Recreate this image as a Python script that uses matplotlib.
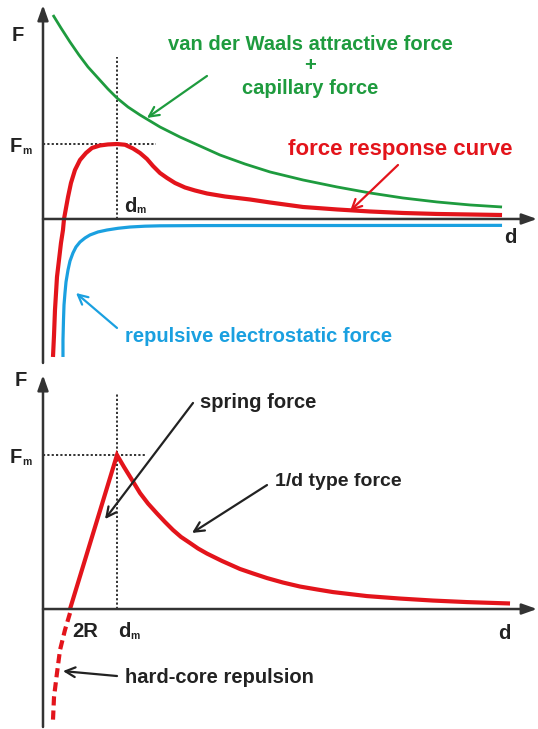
import matplotlib
matplotlib.use("Agg")
import matplotlib.pyplot as plt

#===============================================================================
# units: d in multiples of d_m, F in multiples of F_m

# --- top panel -----------------------------------------------------------------
vdw_d = [0.135, 0.243, 0.365, 0.486, 0.608, 0.743, 0.878, 1.0, 1.149, 1.311,
         1.446, 1.581, 1.851, 2.122, 2.392, 2.730, 3.068, 3.514, 3.973, 4.419,
         4.865, 5.324, 5.770, 6.203]
vdw_F = [2.72, 2.547, 2.36, 2.187, 2.027, 1.88, 1.733, 1.613, 1.493, 1.387,
         1.307, 1.227, 1.093, 0.973, 0.853, 0.733, 0.627, 0.52, 0.427, 0.347,
         0.28, 0.227, 0.187, 0.16]

resp_d = [0.135, 0.149, 0.162, 0.176, 0.189, 0.216, 0.243, 0.270, 0.284, 0.311,
          0.338, 0.378, 0.432, 0.5, 0.581, 0.662, 0.770, 0.878, 1.0, 1.108,
          1.216, 1.311, 1.405, 1.486, 1.581, 1.676, 1.784, 1.919, 2.054, 2.216,
          2.459, 2.797, 3.068, 3.514, 3.973, 4.419, 4.865, 5.324, 5.770, 6.203]
resp_F = [-1.84, -1.547, -1.213, -0.987, -0.773, -0.547, -0.32, -0.147, 0.0, 0.147,
          0.293, 0.48, 0.653, 0.787, 0.88, 0.947, 0.98, 0.994, 1.0, 0.99,
          0.94, 0.88, 0.8, 0.707, 0.613, 0.547, 0.48, 0.42, 0.38, 0.34,
          0.3, 0.26, 0.22, 0.16, 0.127, 0.1, 0.08, 0.067, 0.06, 0.053]

elec_d = [0.27, 0.27, 0.277, 0.284, 0.297, 0.311, 0.338, 0.365, 0.405, 0.446,
          0.5, 0.568, 0.635, 0.743, 0.865, 1.014, 1.176, 1.378, 1.581, 2.122,
          2.797, 4.149, 6.203]
elec_F = [-1.84, -1.613, -1.347, -1.147, -0.987, -0.84, -0.68, -0.56, -0.453, -0.373,
          -0.307, -0.253, -0.213, -0.173, -0.147, -0.124, -0.107, -0.096, -0.091, -0.088,
          -0.087, -0.087, -0.085]

# --- bottom panel --------------------------------------------------------------
model_d = [0.365, 1.0, 1.095, 1.203, 1.311, 1.419, 1.541, 1.649, 1.757, 1.865,
           1.986, 2.095, 2.216, 2.419, 2.662, 2.838, 3.027, 3.243, 3.473, 3.703,
           3.919, 4.149, 4.378, 4.824, 5.270, 5.730, 6.311]
model_F = [0.0, 1.0, 0.922, 0.838, 0.753, 0.685, 0.62, 0.565, 0.513, 0.468,
           0.429, 0.393, 0.360, 0.312, 0.26, 0.231, 0.201, 0.172, 0.146, 0.127,
           0.110, 0.097, 0.084, 0.068, 0.055, 0.045, 0.036]

core_d = [0.365, 0.297, 0.230, 0.189, 0.149, 0.135]
core_F = [-0.026, -0.136, -0.266, -0.416, -0.571, -0.721]

#===============================================================================
GREEN = "#1e9b3e"
RED = "#e3141b"
BLUE = "#1aa0e0"
DARK = "#222222"
AXIS = "#333333"

plt.rcParams["font.family"] = ["Liberation Sans", "DejaVu Sans"]
plt.rcParams["font.weight"] = "bold"

fig = plt.figure(figsize=(5.38, 7.29), dpi=100)
ax1 = fig.add_axes([0, 0.4952, 1, 0.5048])
ax2 = fig.add_axes([0, 0, 1, 0.4952])

for ax in (ax1, ax2):
    ax.set_axis_off()
    ax.set_xlim(-0.581, 6.689)

ax1.set_ylim(-1.987, 2.92)
ax2.set_ylim(-0.779, 1.565)


def axis_arrow(ax, start, tip):
    ax.annotate("", xy=tip, xytext=start,
                arrowprops=dict(arrowstyle="-|>,head_length=0.9,head_width=0.32",
                                color=AXIS, lw=1.8, shrinkA=0, shrinkB=0))


def pointer(ax, start, tip, color):
    ax.annotate("", xy=tip, xytext=start,
                arrowprops=dict(arrowstyle="->,head_length=0.7,head_width=0.35",
                                color=color, lw=1.6, shrinkA=0, shrinkB=0))


def sub_label(ax, x, y, main, sub):
    ax.text(x, y, main, fontsize=14.5, color=DARK, ha="center", va="center")
    ax.text(x + 0.15, y - 0.05 * (ax.get_ylim()[1] - ax.get_ylim()[0]) / 4.9,
            sub, fontsize=7.5, color=DARK, ha="center", va="center")


#===============================================================================
# top panel
axis_arrow(ax1, (0, -1.92), (0, 2.853))
axis_arrow(ax1, (0, 0), (6.676, 0))
ax1.plot([1, 1], [0, 2.16], color=DARK, lw=1.3, ls=(0, (1.2, 1.2)))
ax1.plot([0, 1.527], [1, 1], color=DARK, lw=1.3, ls=(0, (1.2, 1.2)))

ax1.plot(vdw_d, vdw_F, color=GREEN, lw=2.0, solid_capstyle="butt",
         solid_joinstyle="round")
ax1.plot(elec_d, elec_F, color=BLUE, lw=2.3, solid_capstyle="butt",
         solid_joinstyle="round")
ax1.plot(resp_d, resp_F, color=RED, lw=3.0, solid_capstyle="butt",
         solid_joinstyle="round")

ax1.text(-0.338, 2.453, "F", fontsize=14.5, color=DARK, ha="center", va="center")
sub_label(ax1, -0.365, 0.96, "F", "m")
sub_label(ax1, 1.176, 0.173, "d", "m")
ax1.text(6.311, -0.253, "d", fontsize=14.5, color=DARK, ha="center", va="center")

ax1.text(3.608, 2.33, "van der Waals attractive force", fontsize=14.5,
         color=GREEN, ha="center", va="center")
ax1.text(3.608, 2.04, "+", fontsize=14.5, color=GREEN, ha="center", va="center")
ax1.text(3.608, 1.74, "capillary force", fontsize=14.5, color=GREEN,
         ha="center", va="center")
ax1.text(4.824, 0.92, "force response curve", fontsize=16, color=RED,
         ha="center", va="center")
ax1.text(1.108, -1.573, "repulsive electrostatic force", fontsize=14.5,
         color=BLUE, ha="left", va="center")

pointer(ax1, (2.216, 1.907), (1.405, 1.347), GREEN)
pointer(ax1, (4.797, 0.72), (4.149, 0.107), RED)
pointer(ax1, (1.0, -1.453), (0.446, -0.987), BLUE)

#===============================================================================
# bottom panel
axis_arrow(ax2, (0, -0.766), (0, 1.519))
axis_arrow(ax2, (0, 0), (6.676, 0))
ax2.plot([1, 1], [0, 1.403], color=DARK, lw=1.3, ls=(0, (1.2, 1.2)))
ax2.plot([0, 1.378], [1, 1], color=DARK, lw=1.3, ls=(0, (1.2, 1.2)))

ax2.plot(model_d, model_F, color=RED, lw=3.0, solid_joinstyle="miter",
         solid_capstyle="butt")
ax2.plot(core_d, core_F, color=RED, lw=3.0, ls=(0, (2.2, 1.2)))

ax2.text(-0.297, 1.481, "F", fontsize=14.5, color=DARK, ha="center", va="center")
sub_label(ax2, -0.365, 0.981, "F", "m")
ax2.text(0.568, -0.149, "2R", fontsize=14.5, color=DARK, ha="center", va="center")
sub_label(ax2, 1.095, -0.149, "d", "m")
ax2.text(6.23, -0.156, "d", fontsize=14.5, color=DARK, ha="center", va="center")

ax2.text(2.122, 1.338, "spring force", fontsize=14.5, color=DARK,
         ha="left", va="center")
ax2.text(3.135, 0.831, "1/d type force", fontsize=14, color=DARK,
         ha="left", va="center")
ax2.text(1.108, -0.442, "hard-core repulsion", fontsize=14.5, color=DARK,
         ha="left", va="center")

pointer(ax2, (2.027, 1.338), (0.838, 0.584), DARK)
pointer(ax2, (3.027, 0.805), (2.014, 0.494), DARK)
pointer(ax2, (1.0, -0.435), (0.27, -0.403), DARK)

fig.savefig("out.png", dpi=100, facecolor="white")
